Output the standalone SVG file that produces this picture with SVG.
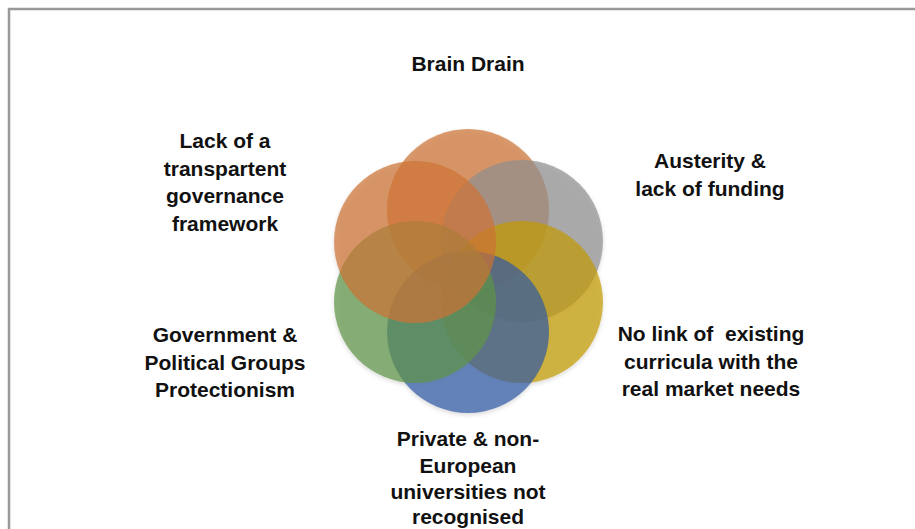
<svg xmlns="http://www.w3.org/2000/svg" width="915" height="529" viewBox="0 0 915 529">
  <style>
    .lbl { font-family: "Liberation Sans", Arial, sans-serif; font-weight: bold; font-size: 21px; fill: #111111; text-anchor: middle; white-space: pre; }
    .c { opacity: 0.7; }
  </style>
  <defs>
    <filter id="sh" x="-20%" y="-20%" width="140%" height="140%">
      <feDropShadow dx="0" dy="2" stdDeviation="2" flood-color="#000000" flood-opacity="0.2"/>
    </filter>
  </defs>
  <rect width="915" height="529" fill="#ffffff"/>
  <path d="M9,529 V9 H915" fill="none" stroke="#999999" stroke-width="2.5"/>

  <g id="circles" filter="url(#sh)">
    <g id="c-top"><circle class="c" cx="468" cy="210" r="81" fill="#CD7233"/></g>
    <g id="c-upright"><circle class="c" cx="522" cy="241" r="81" fill="#8E8E8E"/></g>
    <g id="c-lowright"><circle class="c" cx="522" cy="302" r="81" fill="#C29A02"/></g>
    <g id="c-bottom"><circle class="c" cx="468" cy="332" r="81" fill="#3059A2"/></g>
    <g id="c-lowleft"><circle class="c" cx="415" cy="302" r="81" fill="#5E9446"/></g>
    <g id="c-upleft"><circle class="c" cx="415" cy="242" r="81" fill="#CD7233"/></g>
  </g>

  <g id="connectors"></g>

  <g id="t-brain">
    <text class="lbl" x="468" y="71">Brain Drain</text>
  </g>
  <g id="t-governance">
    <text class="lbl" x="225" y="148">Lack of a</text>
    <text class="lbl" x="225" y="175.5">transpartent</text>
    <text class="lbl" x="225" y="203">governance</text>
    <text class="lbl" x="225" y="230.5">framework</text>
  </g>
  <g id="t-austerity">
    <text class="lbl" x="710" y="168">Austerity &amp;</text>
    <text class="lbl" x="710" y="195.5">lack of funding</text>
  </g>
  <g id="t-curricula">
    <text class="lbl" x="711" y="341">No link of  existing</text>
    <text class="lbl" x="711" y="368.5">curricula with the</text>
    <text class="lbl" x="711" y="396">real market needs</text>
  </g>
  <g id="t-government">
    <text class="lbl" x="225" y="342">Government &amp;</text>
    <text class="lbl" x="225" y="369.5">Political Groups</text>
    <text class="lbl" x="225" y="397">Protectionism</text>
  </g>
  <g id="t-private">
    <text class="lbl" x="468" y="446">Private &amp; non-</text>
    <text class="lbl" x="468" y="472.5">European</text>
    <text class="lbl" x="468" y="499">universities not</text>
    <text class="lbl" x="468" y="524">recognised</text>
  </g>
</svg>
